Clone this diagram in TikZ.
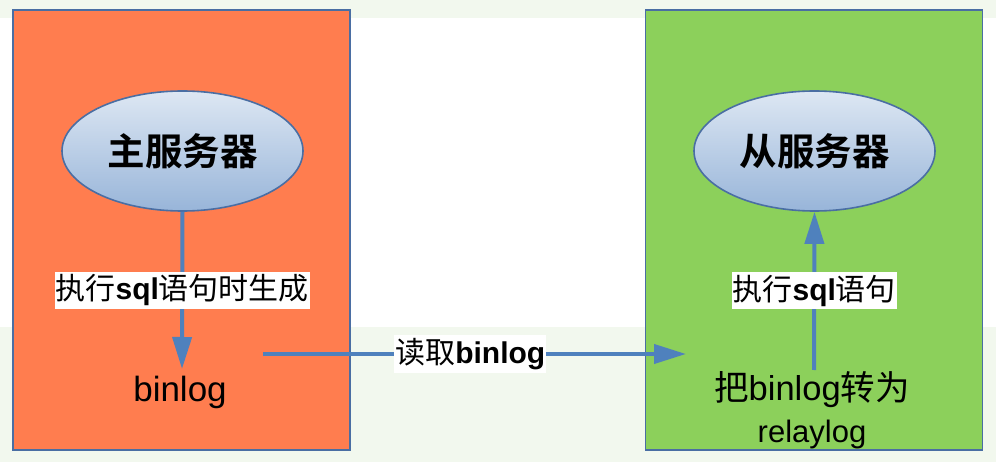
\documentclass[tikz,border=0pt]{standalone}
\usepackage{fontspec}
\setmainfont{Liberation Sans}
\newfontfamily\cjk{Noto Sans CJK SC}[BoldFont={Noto Sans CJK SC Bold}]
\usetikzlibrary{shapes.geometric,arrows.meta}
\definecolor{bgg}{HTML}{F2F8EE}
\definecolor{coral}{HTML}{FF7D4F}
\definecolor{leaf}{HTML}{8CD05B}
\definecolor{edge}{HTML}{4A6EA3}
\definecolor{arr}{HTML}{4F81BD}
\definecolor{elltop}{HTML}{DDE7F3}
\definecolor{ellbot}{HTML}{98B5D9}
\tikzset{
  panel/.style={draw=edge, line width=1.6pt, minimum width=337pt, minimum height=440pt, inner sep=0pt},
  srv/.style={ellipse, draw=edge, line width=1.6pt, top color=elltop, bottom color=ellbot,
    minimum width=241pt, minimum height=120pt, inner sep=0pt, font=\fontsize{37.5}{42}\selectfont\cjk\bfseries},
  flow/.style={draw=arr, line width=4pt, -{Triangle[length=32pt,width=19pt]}},
  lbl/.style={fill=white, inner xsep=1pt, inner ysep=3pt, font=\fontsize{30}{34}\selectfont, text height=25pt, text depth=6pt},
  big/.style={inner sep=0pt, font=\fontsize{34.5}{40}\selectfont},
}
\begin{document}
\begin{tikzpicture}[x=1pt,y=-1pt]
\useasboundingbox (0,0) rectangle (996,462);
\fill[bgg] (0,0) rectangle (996,462);
\fill[white] (0,18) rectangle (996,327);
\node[panel, fill=coral] (lp) at (181.5,230) {};
\node[panel, fill=leaf] (rp) at (814,230) {};
\node[srv] (m) at (182.5,151) {主服务器};
\node[srv] (s) at (814.5,151) {从服务器};
\node[big, font=\fontsize{35}{40}\selectfont] (bl) at (180,392) {binlog};
\node[big, anchor=north] (r1) at (812,371) {{\cjk 把}binlog{\cjk 转为}};
\node[inner sep=0pt, font=\fontsize{31}{36}\selectfont] (r2) at (812,434) {relaylog};
\coordinate (st) at (814,370);
\coordinate (h1) at (263,354);
\coordinate (h2) at (686,354);
\coordinate (bt) at (182,369);
\draw[flow] (m.south) -- (bt) node[midway, lbl] {{\cjk 执行}\textbf{sql}{\cjk 语句时生成}};
\draw[flow] (h1) -- (h2) node[pos=0.49, lbl] {{\cjk 读取}\textbf{binlog}};
\draw[flow] (st) -- (s.south) node[midway, lbl] {{\cjk 执行}\textbf{sql}{\cjk 语句}};
\end{tikzpicture}
\end{document}
